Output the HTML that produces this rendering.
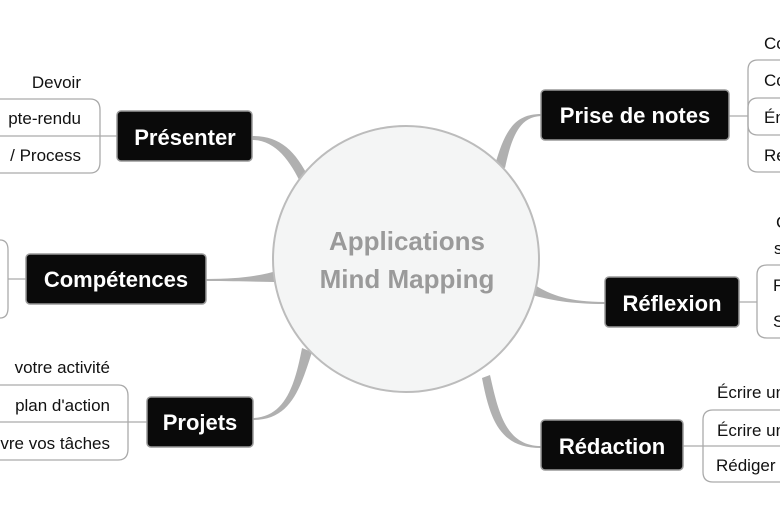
<!DOCTYPE html>
<html><head><meta charset="utf-8"><style>
body{margin:0;background:#fff;}
svg{display:block}
.l{font-family:"Liberation Sans",sans-serif;font-size:17px;fill:#111}
.b{font-family:"Liberation Sans",sans-serif;font-size:22px;font-weight:bold;fill:#fff}
.c{font-family:"Liberation Sans",sans-serif;font-size:26px;font-weight:bold;fill:#9a9a9a}
</style></head><body>
<svg width="780" height="516" viewBox="0 0 780 516">
<g fill="#b0b0b0" stroke="none">
<path d="M252 136 C280 136 295 150 310 180 L302 186 C290 160 275 140 252 140 Z"/>
<path d="M206 279 C240 279 260 276 280 270 L280 282 C260 282 240 281 206 281 Z"/>
<path d="M253 420 C290 420 300 390 312 352 L302 348 C295 385 285 417 253 418 Z"/>
<path d="M541 114 C515 114 505 130 495 165 L505 168 C512 135 520 117 541 116 Z"/>
<path d="M605 302 C570 302 550 295 535 285 L532 295 C550 300 570 304 605 304 Z"/>
<path d="M541 446 C505 446 498 410 490 375 L482 378 C490 420 500 448 541 448 Z"/>
</g>
<circle cx="406" cy="259" r="133" fill="#f4f5f5" stroke="#bcbcbc" stroke-width="2"/>
<text class="c" x="407" y="250" text-anchor="middle">Applications</text>
<text class="c" x="407" y="288" text-anchor="middle">Mind Mapping</text>
<g fill="none" stroke="#aaa" stroke-width="1.3">
<path d="M0 99 H90 Q100 99 100 110 V162 Q100 173 90 173 H0"/><path d="M0 136 H117"/>
<path d="M0 240 Q8 240 8 250 V308 Q8 318 0 318"/><path d="M8 279 H26"/>
<path d="M0 385 H118 Q128 385 128 396 V449 Q128 460 118 460 H0"/><path d="M0 422 H147"/>
<path d="M780 60 H758 Q748 60 748 70 V162 Q748 172 758 172 H780"/><path d="M729 116 H748"/>
<path d="M780 98 H758 Q748 98 748 108 V125 Q748 135 758 135 H780"/>
<path d="M780 265 H767 Q757 265 757 275 V328 Q757 338 767 338 H780"/><path d="M739 302 H757"/>
<path d="M780 410 H713 Q703 410 703 420 V472 Q703 482 713 482 H780"/><path d="M683 446 H703"/><path d="M703 446 H780"/>
</g>
<g fill="#0a0a0a" stroke="#999" stroke-width="1.5">
<rect x="117" y="111" width="135" height="50" rx="4"/>
<rect x="26" y="254" width="180" height="50" rx="4"/>
<rect x="147" y="397" width="106" height="50" rx="4"/>
<rect x="541" y="90" width="188" height="50" rx="4"/>
<rect x="605" y="277" width="134" height="50" rx="4"/>
<rect x="541" y="420" width="142" height="50" rx="4"/>
</g>
<text class="b" x="185" y="145" text-anchor="middle">Présenter</text>
<text class="b" x="116" y="287" text-anchor="middle">Compétences</text>
<text class="b" x="200" y="430" text-anchor="middle">Projets</text>
<text class="b" x="635" y="123" text-anchor="middle">Prise de notes</text>
<text class="b" x="672" y="311" text-anchor="middle">Réflexion</text>
<text class="b" x="612" y="454" text-anchor="middle">Rédaction</text>
<text class="l" x="81" y="88" text-anchor="end">Devoir</text>
<text class="l" x="81" y="124" text-anchor="end">pte-rendu</text>
<text class="l" x="81" y="161" text-anchor="end">/ Process</text>
<text class="l" x="110" y="373" text-anchor="end">votre activité</text>
<text class="l" x="110" y="411" text-anchor="end">plan d'action</text>
<text class="l" x="110" y="449" text-anchor="end">vre vos tâches</text>
<text class="l" x="764" y="49">Co</text>
<text class="l" x="764" y="86">Co</text>
<text class="l" x="764" y="123">Én</text>
<text class="l" x="764" y="161">Ré</text>
<text class="l" x="776" y="228">C</text>
<text class="l" x="774" y="254">s</text>
<text class="l" x="773" y="291">F</text>
<text class="l" x="773" y="327">S</text>
<text class="l" x="717" y="398">Écrire un</text>
<text class="l" x="717" y="436">Écrire un</text>
<text class="l" x="716" y="471">Rédiger</text>
</svg>
</body></html>
